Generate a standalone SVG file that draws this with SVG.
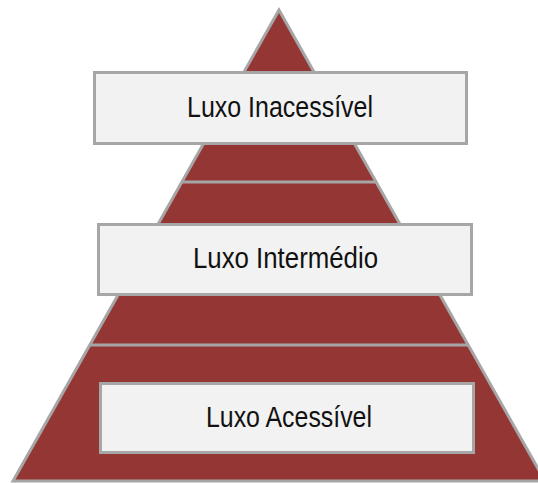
<svg xmlns="http://www.w3.org/2000/svg" width="538" height="483" viewBox="0 0 538 483">
<style>
.tier{fill:#943634;stroke:#a6a6a6;stroke-width:3;stroke-linejoin:miter}
.div{stroke:#a6a6a6;stroke-width:3}
.box{fill:#f2f2f2;stroke:#a6a6a6;stroke-width:3}
.lbl{font-family:"Liberation Sans",Arial,sans-serif;font-size:30px;fill:#111;text-anchor:middle}
</style>
<rect width="538" height="483" fill="#ffffff"/>
<g id="pyramid">
<polygon class="tier" points="279,10 13,481 545,481"/>
<line class="div" x1="182" y1="182" x2="376" y2="182"/>
<line class="div" x1="90" y1="345" x2="468" y2="345"/>
</g>
<g id="connectors"></g>
<g id="luxo-inacessivel">
<rect class="box" x="94.5" y="72.5" width="372" height="71"/>
<text class="lbl" x="280" y="117" textLength="186" lengthAdjust="spacingAndGlyphs">Luxo Inacessível</text>
</g>
<g id="luxo-intermedio">
<rect class="box" x="98.5" y="224.5" width="373" height="70"/>
<text class="lbl" x="285.5" y="268" textLength="185" lengthAdjust="spacingAndGlyphs">Luxo Intermédio</text>
</g>
<g id="luxo-acessivel">
<rect class="box" x="100.5" y="383.5" width="373" height="69"/>
<text class="lbl" x="289" y="427" textLength="166" lengthAdjust="spacingAndGlyphs">Luxo Acessível</text>
</g>
</svg>
